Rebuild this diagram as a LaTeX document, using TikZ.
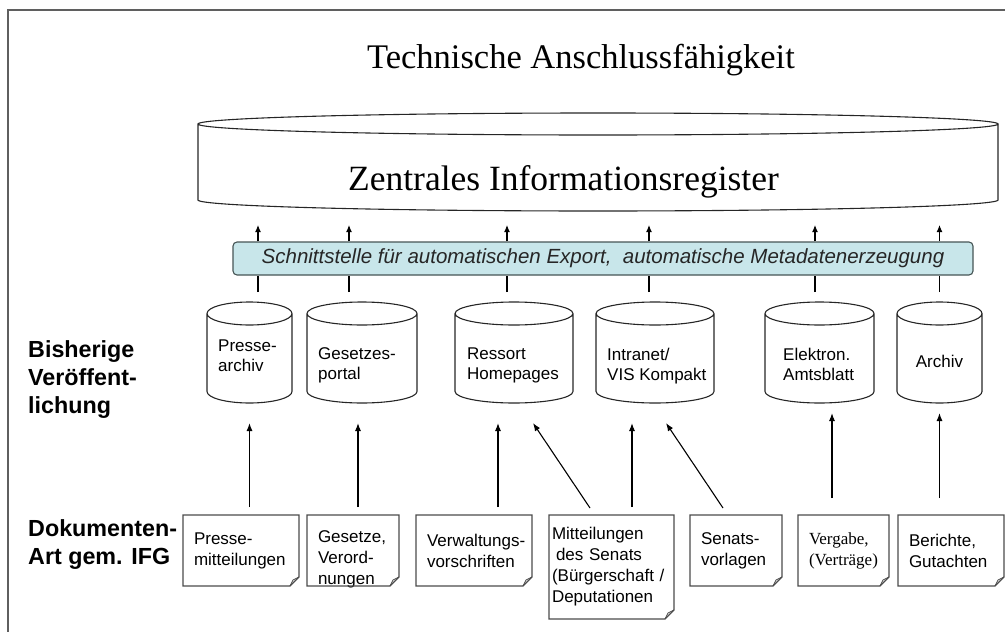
\documentclass[tikz,border=0pt]{standalone}
\usepackage{fontspec}
\setmainfont{Liberation Serif}
\setsansfont{Liberation Sans}
\usetikzlibrary{arrows.meta,calc}
\hyphenpenalty=10000
\exhyphenpenalty=10000

\definecolor{boxfill}{RGB}{200,230,234}
\definecolor{boxline}{RGB}{70,85,85}
\definecolor{frameline}{RGB}{95,95,95}
\definecolor{docline}{RGB}{75,75,75}

\tikzset{
  cyl/.style={inner sep=0pt, outer sep=0pt, minimum height=101pt},
  cylline/.style={draw=black!85, line width=1.1pt},
  ctext/.style={inner sep=0pt, align=left, anchor=north west,
    font=\sffamily\fontsize{17}{20}\selectfont},
  doc/.style={inner ysep=0pt, inner xsep=11pt, outer sep=0pt, align=left, minimum height=71pt,
    font=\sffamily\fontsize{17}{21}\selectfont},
  lbl/.style={inner sep=0pt, align=left, anchor=west,
    font=\sffamily\bfseries\fontsize{23.3}{28}\selectfont},
  arr/.style={-{Latex[length=8pt,width=6pt]}, line width=1.1pt},
  up/.style={arr, shorten <=8pt, shorten >=20pt},
  upr/.style={arr, shorten <=17pt, shorten >=10pt},
}

\begin{document}
\begin{tikzpicture}[x=1pt, y=-1pt]
\useasboundingbox (0,0) rectangle (1005,632);
\clip (0,0) rectangle (1005,632);
\draw[frameline, line width=1.5pt] (8,10) rectangle (1015,640);

\node[font=\fontsize{34.5}{40}\selectfont, inner sep=0pt] (title) at (581,60) {Technische Anschlussfähigkeit};

% Register
\node[cyl, minimum width=800pt, minimum height=98pt] (zr) at (598,162) {};
\node[font=\fontsize{35.5}{40}\selectfont, inner sep=0pt] (zrtext) at (563.5,181.5) {Zentrales Informationsregister};

% Schnittstelle
\node[draw=boxline, fill=boxfill, rounded corners=4pt, line width=1.1pt, minimum width=740pt,
  minimum height=33pt, inner sep=0pt, text=black!85,
  font=\sffamily\itshape\fontsize{20.5}{22}\selectfont] (sst) at (603,258.5)
  {Schnittstelle für automatischen Export,\ \ automatische Metadatenerzeugung};

% bisherige Veroeffentlichung
\node[cyl, minimum width=85pt] (pa) at (249.5,352.5) {};
\node[cyl, minimum width=110pt] (gp) at (362,352.5) {};
\node[cyl, minimum width=118pt] (rh) at (514,352.5) {};
\node[cyl, minimum width=118pt] (iv) at (655,352.5) {};
\node[cyl, minimum width=109pt] (ea) at (819.5,352.5) {};
\node[cyl, minimum width=85pt] (ar) at (939.5,352.5) {};

\foreach \c/\r in {zr/11,pa/11.5,gp/11.5,rh/11.5,iv/11.5,ea/11.5,ar/11.5}
  \draw[cylline] let \p1=($(\c.east)-(\c.west)$) in
    ($(\c.north west)+(0,\r)$) -- ($(\c.south west)+(0,-\r)$)
    arc[start angle=180, end angle=360, x radius=0.5*\x1, y radius=\r pt]
    -- ($(\c.north east)+(0,\r)$)
    ($(\c.north)+(0,\r)$) ellipse[x radius=0.5*\x1, y radius=\r pt];

\node[ctext] (pat) at (218,339.7) {Presse-\\archiv};
\node[ctext] (gpt) at (318,347.7) {Gesetzes-\\portal};
\node[ctext] (rht) at (467,347.7) {Ressort\\Homepages};
\node[ctext] (ivt) at (607,347.7) {Intranet/\\VIS Kompakt};
\node[ctext] (eat) at (783,347.7) {Elektron.\\Amtsblatt};
\node[ctext, anchor=base] (art) at (939.5,367) {Archiv};

\node[lbl] (bv) at (28,380) {Bisherige\\Veröffent-\\lichung};
\node[lbl] (da) at (28,545) {Dokumenten-\\Art gem. IFG};

% Dokumentenarten
\node[doc, text width=94pt] (pm) at (241,550.5) {Presse-\\mitteilungen};
\node[doc, text width=70pt] (gv) at (353,550.5) {\rule{0pt}{26pt}Gesetze,\\Verord-\\\smash{nungen}};
\node[doc, text width=94pt] (vv) at (474,550.5) {Verwaltungs-\\vorschriften};
\node[doc, text width=119pt, inner xsep=3pt, minimum height=104pt] (ms) at (611.5,567) {Mitteilungen\\\hspace*{4pt}des Senats\\(Bürgerschaft /\\Deputationen};
\node[doc, text width=70pt] (sv) at (736,550.5) {Senats-\\vorlagen};
\node[doc, text width=69pt, font=\rmfamily\fontsize{17}{21}\selectfont] (vg) at (843.5,550.5) {Vergabe,\\(Verträge)};
\node[doc, text width=84pt] (bg) at (951,550.5) {Berichte,\\Gutachten};

\foreach \n in {pm,gv,vv,ms,sv,vg,bg}{
  \draw[docline, line width=1.1pt] (\n.north west) -- (\n.north east) -- ($(\n.south east)+(0,-9)$)
    -- ($(\n.south east)+(-9,0)$) -- (\n.south west) -- cycle;
  \draw[docline, line width=0.8pt] ($(\n.south east)+(-9,0)$) -- ($(\n.south east)+(-6,-6)$) -- ($(\n.south east)+(0,-9)$);
}

% Export nach oben
\foreach \n/\d in {pa/8.5,gp/-13,rh/-7,iv/-6,ea/-4.5,ar/0}{
  \coordinate (c\n) at ($(\n.north)+(\d,0)$);
  \draw[line width=1.1pt, shorten <=10pt] (c\n) -- (c\n |- sst.south);
  \draw[-{Latex[length=7pt,width=6pt]}, line width=1.1pt, shorten >=14pt] (c\n |- sst.north) -- (c\n |- zr.south);
}

% Zuordnung Dokumente
\foreach \s/\t/\d in {pm/pa/0,gv/gp/-4,vv/rh/-16,ms/iv/-23}
  \draw[up] ($(\t.south |- \s.north)+(\d,0)$) -- ($(\t.south)+(\d,0)$);
\foreach \s/\t/\d in {vg/ea/12.5,bg/ar/0}
  \draw[upr] ($(\t.south |- \s.north)+(\d,0)$) -- ($(\t.south)+(\d,0)$);
\draw[arr, shorten <=8.4pt, shorten >=24.1pt] ($(ms.north)+(-16.8,0)$) -- ($(rh.south)+(5.6,0)$);
\draw[arr, shorten <=8.4pt, shorten >=24.1pt] ($(sv.north)+(-8.3,0)$) -- ($(iv.south)+(-2.4,0)$);

\end{tikzpicture}
\end{document}
